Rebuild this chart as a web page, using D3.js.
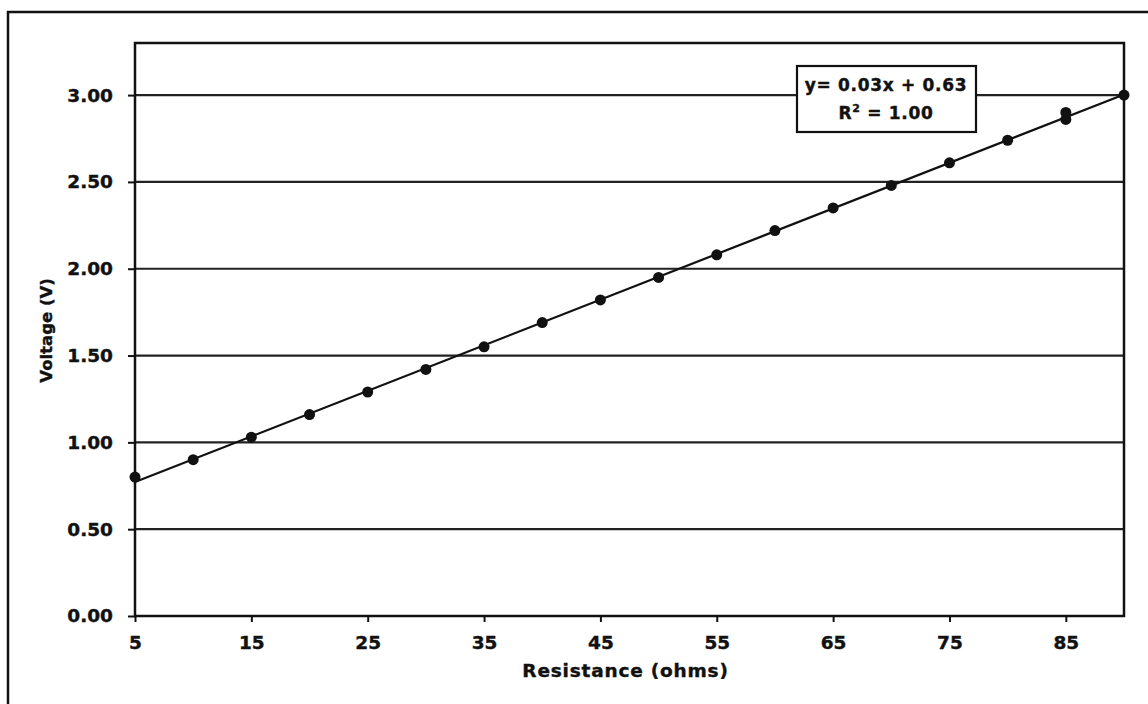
<!DOCTYPE html>
<html>
<head>
	<title>Voltage vs Resistance</title>
	<script src="https://d3js.org/d3.v7.min.js"></script>
	<style>
		body { margin: 0; background: #fff; }
		svg { display: block; }
		text { font-family: "DejaVu Sans", Verdana, sans-serif; font-weight: bold; fill: #111; stroke: #111; stroke-width: 0.4px; }
	</style>
</head>
<body>
	<svg id="chart" width="1148" height="704"></svg>
</body>
<script type="text/javascript">
	// readings (two readings at 85 ohms)
	var resistance = [5, 10, 15, 20, 25, 30, 35, 40, 45, 50, 55, 60, 65, 70, 75, 80, 85, 85, 90];
	var voltage = [0.80, 0.90, 1.03, 1.16, 1.29, 1.42, 1.55, 1.69, 1.82, 1.95, 2.08, 2.22, 2.35, 2.48, 2.61, 2.74, 2.86, 2.90, 3.00];
	var xTicks = [5, 15, 25, 35, 45, 55, 65, 75, 85];
	var yTicks = [0, 0.5, 1, 1.5, 2, 2.5, 3];
	var xDomain = [5, 90];
	var yDomain = [0, 3.3];
	var eqLabel = "y= 0.03x + 0.63";
	var r2Label = "1.00";

	// plot area (window.top is taken, so prefix the names)
	var plotL = 135, plotR = 1124, plotT = 43, plotB = 616;

	var svg = d3.select('#chart');

	// outer frame (only the left and top edges are visible)
	svg.append('rect')
		.attr('x', 8).attr('y', 12)
		.attr('width', 1300).attr('height', 900)
		.attr('fill', 'none')
		.attr('stroke', '#111')
		.attr('stroke-width', 2.5);

	var x = d3.scaleLinear().domain(xDomain).range([plotL, plotR]);
	var y = d3.scaleLinear().domain(yDomain).range([plotB, plotT]);

	// horizontal grid
	svg.append('g')
		.selectAll('line')
		.data(yTicks)
		.enter().append('line')
			.attr('x1', plotL).attr('x2', plotR)
			.attr('y1', d => y(d)).attr('y2', d => y(d))
			.attr('stroke', '#222')
			.attr('stroke-width', 2.2);

	// plot border
	svg.append('rect')
		.attr('x', plotL).attr('y', plotT)
		.attr('width', plotR - plotL).attr('height', plotB - plotT)
		.attr('fill', 'none')
		.attr('stroke', '#111')
		.attr('stroke-width', 2.5);

	var yAxis = svg.append('g')
		.attr('transform', 'translate(' + plotL + ',0)')
		.call(d3.axisLeft(y).tickValues(yTicks).tickFormat(d3.format('.2f')).tickSize(7).tickPadding(15));
	var xAxis = svg.append('g')
		.attr('transform', 'translate(0,' + plotB + ')')
		.call(d3.axisBottom(x).tickValues(xTicks).tickFormat(d3.format('d')).tickSize(6).tickPadding(14));

	[xAxis, yAxis].forEach(function(ax) {
		ax.select('.domain').remove();
		ax.selectAll('line').attr('stroke', '#111').attr('stroke-width', 2);
		ax.selectAll('text')
			.attr('font-family', '"DejaVu Sans", Verdana, sans-serif')
			.attr('font-weight', 'bold')
			.attr('font-size', 18.5)
			.attr('fill', '#111');
	});

	// axis titles
	svg.append('text')
		.attr('x', (plotL + plotR) / 2 - 4)
		.attr('y', 677)
		.attr('text-anchor', 'middle')
		.attr('font-size', 18.5)
		.attr('letter-spacing', 0.8)
		.text('Resistance (ohms)');

	svg.append('text')
		.attr('transform', 'translate(52,' + ((plotT + plotB) / 2 + 1) + ') rotate(-90)')
		.attr('text-anchor', 'middle')
		.attr('font-size', 16.5)
		.text('Voltage (V)');

	// least squares trendline
	var n = resistance.length;
	var mx = d3.mean(resistance), my = d3.mean(voltage);
	var sxy = 0, sxx = 0;
	for (var i = 0; i < n; i++) {
		sxy += (resistance[i] - mx) * (voltage[i] - my);
		sxx += (resistance[i] - mx) * (resistance[i] - mx);
	}
	var slope = sxy / sxx;
	var intercept = my - slope * mx;

	svg.append('line')
		.attr('x1', x(xDomain[0])).attr('y1', y(slope * xDomain[0] + intercept))
		.attr('x2', x(xDomain[1])).attr('y2', y(slope * xDomain[1] + intercept))
		.attr('stroke', '#111')
		.attr('stroke-width', 2.2);

	svg.append('g')
		.selectAll('circle')
		.data(resistance)
		.enter().append('circle')
			.attr('cx', d => x(d))
			.attr('cy', (d, i) => y(voltage[i]))
			.attr('r', 5.5)
			.attr('fill', '#111');

	// equation box
	var box = svg.append('g').attr('transform', 'translate(797,66)');
	box.append('rect')
		.attr('width', 179).attr('height', 66)
		.attr('fill', '#fff')
		.attr('stroke', '#111')
		.attr('stroke-width', 2.2);
	box.append('text')
		.attr('x', 89).attr('y', 25)
		.attr('text-anchor', 'middle')
		.attr('font-size', 17)
		.attr('letter-spacing', 0.7)
		.text(eqLabel);
	var r2 = box.append('text')
		.attr('x', 89).attr('y', 53)
		.attr('text-anchor', 'middle')
		.attr('font-size', 17)
		.attr('letter-spacing', 0.7);
	r2.append('tspan').text('R');
	r2.append('tspan').attr('font-size', 11).attr('dy', -7).text('2');
	r2.append('tspan').attr('dy', 7).text(' = ' + r2Label);
</script>
</html>
